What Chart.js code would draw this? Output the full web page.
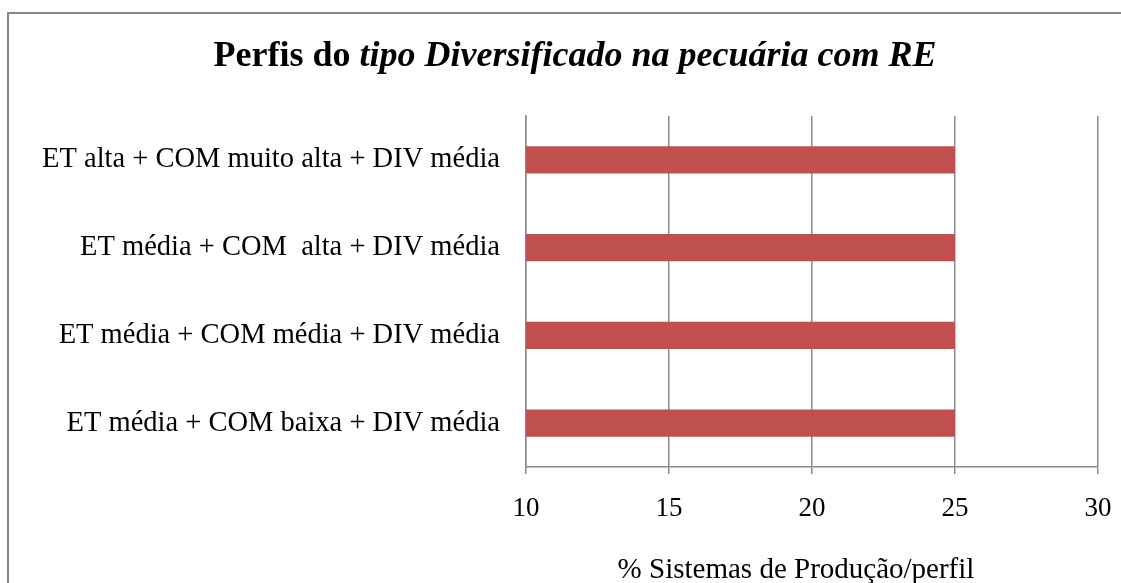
<!DOCTYPE html>
<html>
<head>
<meta charset="utf-8">
<script src="https://cdn.jsdelivr.net/npm/chart.js@4/dist/chart.umd.min.js"></script>
<style>
  html, body { margin: 0; padding: 0; background: #fff; }
  #wrap { width: 1121px; height: 583px; position: relative; }
</style>
</head>
<body>
<div id="wrap"><canvas id="perfisChart"></canvas></div>
<script>
// Dados do gráfico
const categorias = [
    'ET alta + COM muito alta + DIV média',
    'ET média + COM  alta + DIV média',
    'ET média + COM média + DIV média',
    'ET média + COM baixa + DIV média'
];
const valores = [25, 25, 25, 25];
const eixoMin = 10;
const eixoMax = 30;
const eixoPasso = 5;

const tituloNormal = 'Perfis do ';
const tituloItalico = 'tipo Diversificado na pecuária com RE';
const tituloEixoX = '% Sistemas de Produção/perfil';

const fonte = '"Liberation Serif", "Times New Roman", Times, serif';
const corGrade = '#8c8c8c';

// Título com parte em itálico, título do eixo X e moldura do gráfico
const tituloPlugin = {
    id: 'tituloMisto',
    afterDraw(chart) {
        const ctx = chart.ctx;
        ctx.save();
        // moldura
        ctx.strokeStyle = '#868686';
        ctx.lineWidth = 2;
        ctx.beginPath();
        ctx.moveTo(8, chart.height);
        ctx.lineTo(8, 13);
        ctx.lineTo(chart.width, 13);
        ctx.stroke();

        // título
        ctx.fillStyle = '#000';
        ctx.textBaseline = 'alphabetic';
        ctx.font = 'bold 36px ' + fonte;
        const w1 = ctx.measureText(tituloNormal).width;
        ctx.font = 'italic bold 36px ' + fonte;
        const w2 = ctx.measureText(tituloItalico).width;
        const x0 = 575 - (w1 + w2) / 2;
        ctx.font = 'bold 36px ' + fonte;
        ctx.fillText(tituloNormal, x0, 66);
        ctx.font = 'italic bold 36px ' + fonte;
        ctx.fillText(tituloItalico, x0 + w1, 66);

        // título do eixo X (um pouco à esquerda do centro, como no original)
        ctx.font = '29px ' + fonte;
        ctx.textAlign = 'center';
        ctx.fillText(tituloEixoX, 796, 578);
        ctx.restore();
    }
};

const config = {
    type: 'bar',
    data: {
        labels: categorias,
        datasets: [{
            data: valores,
            backgroundColor: '#C0504D',
            borderWidth: 0,
            barPercentage: 0.31,
            categoryPercentage: 1.0
        }]
    },
    options: {
        indexAxis: 'y',
        responsive: true,
        maintainAspectRatio: false,
        animation: false,
        layout: {
            padding: { top: 116, right: 23, left: 0, bottom: 0 }
        },
        plugins: {
            legend: { display: false },
            title: { display: false },
            tooltip: { enabled: false }
        },
        scales: {
            x: {
                min: eixoMin,
                max: eixoMax,
                ticks: {
                    stepSize: eixoPasso,
                    color: '#000',
                    padding: 19,
                    font: { family: fonte, size: 27 }
                },
                grid: {
                    color: corGrade,
                    lineWidth: 1.5,
                    drawTicks: true,
                    tickLength: 7
                },
                border: { display: true, color: corGrade, width: 1.5 },
                title: { display: false },
                afterFit(scale) {
                    scale.height = 116;
                    scale.paddingLeft = 0;
                    scale.paddingRight = 0;
                }
            },
            y: {
                ticks: {
                    color: '#000',
                    padding: 26,
                    font: { family: fonte, size: 28.5 }
                },
                grid: { display: false, drawTicks: false },
                border: { display: true, color: corGrade, width: 1.5 },
                afterFit(scale) {
                    scale.width = 526;
                    scale.paddingTop = 0;
                    scale.paddingBottom = 0;
                }
            }
        }
    },
    plugins: [tituloPlugin]
};

const ctx = document.getElementById('perfisChart').getContext('2d');
const perfisChart = new Chart(ctx, config);
</script>
</body>
</html>
